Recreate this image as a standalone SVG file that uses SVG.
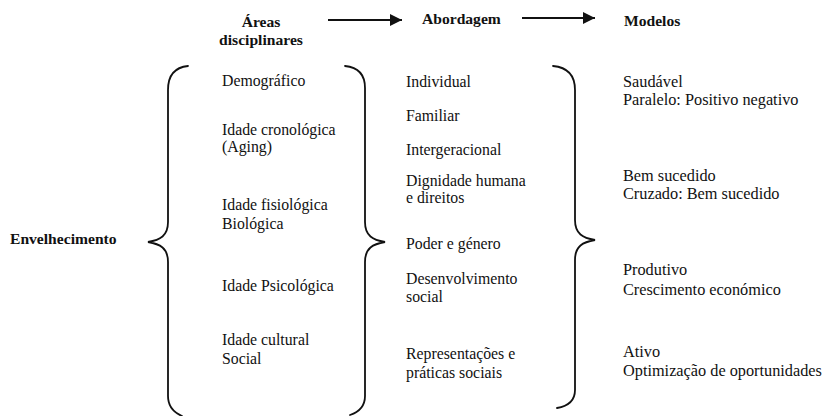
<svg xmlns="http://www.w3.org/2000/svg" width="830" height="416" viewBox="0 0 830 416" font-family="'Liberation Serif', 'Times New Roman', 'DejaVu Serif', serif">
<defs>
<style>
.h{font-family:'Liberation Serif','Times New Roman',serif;font-weight:bold;font-size:15.6px;fill:#111;}
.t{font-family:'Liberation Serif','Times New Roman',serif;font-size:15.8px;fill:#111;}
.m{font-size:16.3px;}
.br{fill:none;stroke:#111;stroke-width:1.8;stroke-linecap:round;}
.ar{fill:none;stroke:#111;stroke-width:2;}
</style>
<marker id="ah" viewBox="0 0 12 12" refX="12" refY="6" markerWidth="12" markerHeight="12" markerUnits="userSpaceOnUse" orient="auto">
<path d="M0,0 L12,6 L0,12 Z" fill="#111"/>
</marker>
</defs>
<rect width="830" height="416" fill="#fff"/>

<g id="headers">
<text class="h" x="261" y="27" text-anchor="middle">Áreas</text>
<text class="h" x="261" y="45" text-anchor="middle">disciplinares</text>
<text class="h" x="422" y="24">Abordagem</text>
<text class="h" x="624" y="26">Modelos</text>
</g>

<g id="connectors">
<line class="ar" x1="328" y1="20" x2="402" y2="20" marker-end="url(#ah)"/>
<line class="ar" x1="522" y1="18" x2="595" y2="18" marker-end="url(#ah)"/>
</g>

<g id="braces">
<path class="br" d="M188,66 Q168,68 168,90 L168,222 C168,236 160,240 148,242 C160,244 168,248 168,262 L168,396 Q168,410 182,416"/>
<path class="br" d="M345,66 Q365,68 365,88 L365,222 C365,236 373,240 385,242 C373,244 365,248 365,262 L365,396 Q365,410 350,415"/>
<path class="br" d="M553,66 Q575,68 575,90 L575,220 C575,234 583,238 595,240 C583,242 575,246 575,260 L575,390 Q575,405 557,408"/>
</g>

<g id="envelhecimento">
<text class="h" x="10" y="244">Envelhecimento</text>
</g>

<g id="areas">
<text class="t" x="222" y="86">Demográfico</text>
<text class="t" x="222" y="135">Idade cronológica</text>
<text class="t" x="222" y="152">(Aging)</text>
<text class="t" x="222" y="210">Idade fisiológica</text>
<text class="t" x="222" y="229">Biológica</text>
<text class="t" x="222" y="291">Idade Psicológica</text>
<text class="t" x="222" y="345">Idade cultural</text>
<text class="t" x="222" y="364">Social</text>
</g>

<g id="abordagem">
<text class="t" x="406" y="87">Individual</text>
<text class="t" x="406" y="121">Familiar</text>
<text class="t" x="406" y="155">Intergeracional</text>
<text class="t" x="406" y="186">Dignidade humana</text>
<text class="t" x="406" y="203">e direitos</text>
<text class="t" x="406" y="249">Poder e género</text>
<text class="t" x="406" y="284">Desenvolvimento</text>
<text class="t" x="406" y="302">social</text>
<text class="t" x="406" y="359">Representações e</text>
<text class="t" x="406" y="378">práticas sociais</text>
</g>

<g id="modelos">
<text class="t m" x="623" y="87">Saudável</text>
<text class="t m" x="623" y="105">Paralelo: Positivo negativo</text>
<text class="t m" x="623" y="181">Bem sucedido</text>
<text class="t m" x="623" y="199">Cruzado: Bem sucedido</text>
<text class="t m" x="623" y="275">Produtivo</text>
<text class="t m" x="623" y="295">Crescimento económico</text>
<text class="t m" x="623" y="357">Ativo</text>
<text class="t m" x="623" y="376">Optimização de oportunidades</text>
</g>
</svg>
